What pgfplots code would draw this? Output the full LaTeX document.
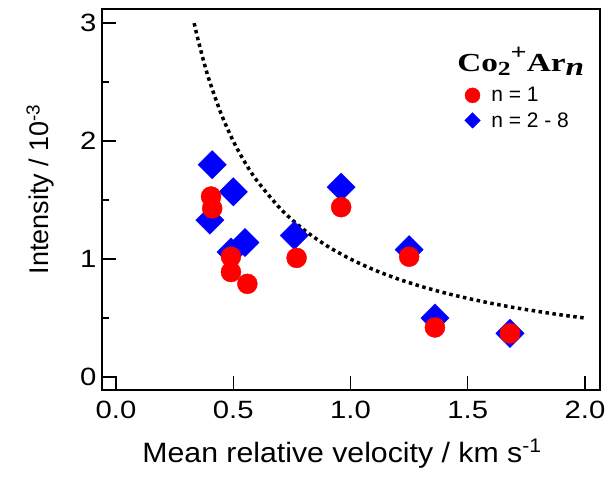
\documentclass[border=0pt]{standalone}
\usepackage{pgfplots}
\pgfplotsset{compat=1.18}
\usepackage{fontspec}
\setmainfont{Liberation Sans}
\newfontfamily\tickfont{Liberation Sans}[FakeStretch=1.17]
\newfontfamily\xlabfont{Liberation Sans}[FakeStretch=1.08]
\newfontfamily\titlefont{Liberation Serif}[FakeStretch=1.28]

\begin{document}
\begin{tikzpicture}
\begin{axis}[
    at={(0,0)}, anchor=south west,
    scale only axis,
    width=498pt, height=381pt,
    xmin=-0.06, xmax=2.064,
    ymin=-0.11, ymax=3.12,
    xtick={0,0.5,1,1.5,2},
    ytick={0,1,2,3},
    minor y tick num=1,
    xtick pos=bottom, ytick pos=left,
    tick align=inside,
    major tick length=14pt, minor tick length=7pt,
    axis line style={line width=1.3pt},
    every tick/.style={line width=1.3pt, black},
    /pgf/number format/assume math mode=true,
    xticklabel style={/pgf/number format/fixed, /pgf/number format/fixed zerofill,
        /pgf/number format/precision=1, yshift=-8pt},
    yticklabel style={/pgf/number format/fixed, /pgf/number format/precision=0, xshift=-2pt},
    tick label style={font=\tickfont\fontsize{25}{30}\selectfont},
    xlabel={Mean relative velocity / km s\textsuperscript{-1}},
    ylabel={Intensity / 10\textsuperscript{-3}},
    xlabel style={font=\xlabfont\fontsize{28}{32}\selectfont,
        at={(axis description cs:0.482,-0.189)}, anchor=base},
    ylabel style={font=\fontsize{27}{32}\selectfont,
        at={(axis description cs:-0.124,0.527)}, anchor=center},
    legend style={draw=none, fill=none, inner sep=0pt, at={(axis description cs:0.728,0.80)},
        anchor=north west, font=\fontsize{21}{24}\selectfont, row sep=5pt},
    legend cell align=left,
]
\addlegendimage{only marks, mark=*, mark size=7.5pt, red, mark options={fill=red, draw=red}}
\addlegendentry{\hspace{9pt}n = 1}
\addlegendimage{only marks, mark=square*, mark size=5.5pt, blue, mark options={fill=blue, draw=blue, rotate=45}}
\addlegendentry{\hspace{9pt}n = 2 - 8}

% fitted curve
\addplot[black, line width=3.5pt, dash pattern=on 3.5pt off 3.5pt, smooth, forget plot] coordinates {
    (0.333,3.0) (0.35,2.857) (0.375,2.667) (0.4,2.5) (0.45,2.222) (0.5,2.0)
    (0.55,1.818) (0.6,1.667) (0.7,1.429) (0.8,1.25) (0.9,1.111) (1.0,1.0)
    (1.1,0.909) (1.2,0.833) (1.3,0.769) (1.4,0.714) (1.5,0.667) (1.6,0.625)
    (1.7,0.588) (1.8,0.556) (1.9,0.526) (2.0,0.5)
};

% n = 2 - 8
\addplot[only marks, mark=square*, mark size=10pt, blue, mark options={fill=blue, draw=blue, rotate=45}, forget plot] coordinates {
    (0.41,1.80) (0.50,1.57) (0.40,1.33) (0.49,1.06) (0.55,1.14)
    (0.76,1.20) (0.96,1.61) (1.25,1.08) (1.36,0.50) (1.68,0.37)
};

% n = 1
\addplot[only marks, mark=*, mark size=10pt, red, mark options={fill=red, draw=red}, forget plot] coordinates {
    (0.405,1.53) (0.41,1.43) (0.49,1.02) (0.49,0.89) (0.56,0.79)
    (0.77,1.01) (0.96,1.44) (1.25,1.02) (1.36,0.42) (1.68,0.37)
};

\node[anchor=base west, inner sep=0pt, font=\titlefont\bfseries\fontsize{26}{30}\selectfont]
    at (axis description cs:0.713,0.835)
    {Co\raisebox{-0.3ex}{\fontsize{20}{24}\selectfont 2}\raisebox{1.05ex}{\fontsize{22}{24}\selectfont +}Ar\raisebox{-0.3ex}{\itshape n}};
\end{axis}
\pgfresetboundingbox
\path[use as bounding box] (-102pt,-88pt) rectangle (514pt,390pt);
\end{tikzpicture}
\end{document}
